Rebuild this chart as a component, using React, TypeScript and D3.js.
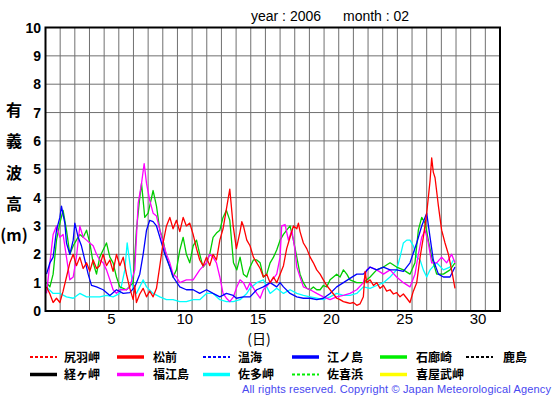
import * as d3 from "d3";
import { useEffect, useRef } from "react";

const W = 555;
const H = 395;

const yTicks = [0, 1, 2, 3, 4, 5, 6, 7, 8, 9, 10];
const xTickDays = [5, 10, 15, 20, 25, 30];

// [day, wave height m]
const matsumae = [
  [1.07, 0.85], [1.3, 0.6], [1.52, 0.3], [1.75, 0.45], [1.98, 0.3], [2.2, 0.7], [2.43, 1.2], [2.66, 1.7],
  [2.89, 2.0], [3.11, 1.6], [3.34, 1.9], [3.57, 1.5], [3.8, 1.7], [4.02, 1.4], [4.25, 1.8], [4.48, 1.5],
  [4.7, 1.6], [4.93, 2.0], [5.16, 1.6], [5.39, 1.8], [5.61, 1.4], [5.84, 2.0], [6.07, 1.6], [6.3, 1.9],
  [6.52, 1.3], [6.75, 0.8], [6.98, 0.4], [7.09, 0.9], [7.2, 0.3], [7.43, 0.6], [7.66, 0.8], [7.89, 0.5],
  [8.11, 0.7], [8.34, 0.5], [8.57, 0.8], [8.8, 1.6], [9.02, 2.4], [9.25, 3.0], [9.48, 3.3], [9.7, 2.9],
  [9.93, 3.2], [10.16, 2.8], [10.39, 3.3], [10.61, 3.0], [10.84, 3.1], [11.07, 2.7], [11.3, 2.2], [11.52, 1.8],
  [11.75, 1.6], [11.98, 1.9], [12.2, 1.6], [12.43, 2.0], [12.66, 1.8], [12.89, 2.5], [13.11, 2.9], [13.34, 3.6],
  [13.57, 4.3], [13.8, 3.0], [14.02, 2.2], [14.27, 2.8], [14.39, 3.15], [14.5, 3.0], [14.73, 2.5], [14.95, 2.3],
  [15.18, 1.9], [15.41, 1.7], [15.64, 1.5], [15.86, 1.2], [16.09, 1.3], [16.32, 1.0], [16.55, 1.2], [16.77, 1.0],
  [17.0, 1.3], [17.23, 1.6], [17.45, 2.2], [17.68, 2.6], [17.91, 3.0], [18.14, 2.9], [18.25, 3.1], [18.36, 2.8],
  [18.59, 2.4], [18.82, 2.2], [19.05, 1.9], [19.27, 1.7], [19.5, 1.45], [19.73, 1.3], [19.95, 1.1], [20.18, 0.9],
  [20.41, 0.75], [20.64, 0.6], [20.86, 0.45], [21.09, 0.4], [21.32, 0.33], [21.55, 0.3], [21.77, 0.27], [22.0, 0.3],
  [22.23, 0.2], [22.45, 0.25], [22.68, 0.5], [22.8, 1.4], [22.91, 1.0], [23.14, 1.1], [23.37, 0.9], [23.59, 1.0],
  [23.82, 0.8], [24.05, 0.9], [24.27, 0.7], [24.5, 0.75], [24.73, 0.6], [24.95, 0.65], [25.18, 0.5], [25.41, 0.6],
  [25.64, 0.45], [25.86, 0.3], [26.09, 0.7], [26.32, 1.0], [26.55, 1.9], [26.77, 2.6], [27.0, 3.45], [27.23, 4.6],
  [27.34, 5.4], [27.45, 4.9], [27.57, 4.7], [27.8, 3.7], [28.02, 2.85], [28.25, 2.4], [28.48, 2.0], [28.7, 1.45],
  [28.93, 0.8],
];

const enoshima = [
  [1.07, 1.3], [1.3, 1.7], [1.52, 1.9], [1.75, 2.85], [1.98, 3.3], [2.09, 3.7], [2.2, 3.4], [2.32, 3.1],
  [2.43, 2.4], [2.66, 2.0], [2.89, 2.5], [3.0, 3.1], [3.23, 2.6], [3.45, 2.3], [3.68, 1.8], [3.91, 1.3],
  [4.14, 0.9], [4.48, 0.85], [4.93, 0.75], [5.39, 0.55], [5.84, 0.75], [6.3, 0.62], [6.75, 0.65], [7.09, 0.85],
  [7.43, 1.3], [7.66, 2.0], [7.89, 2.85], [8.11, 3.2], [8.34, 3.15], [8.57, 3.0], [8.8, 2.6], [9.14, 2.0],
  [9.48, 1.55], [9.7, 1.2], [10.16, 0.85], [10.61, 0.75], [11.07, 0.75], [11.52, 0.62], [11.98, 0.75], [12.43, 0.62],
  [12.89, 0.5], [13.34, 0.62], [13.8, 0.55], [14.02, 0.45], [14.5, 0.5], [14.95, 0.5], [15.41, 0.75], [15.86, 0.85],
  [16.32, 1.0], [16.77, 0.85], [17.0, 1.0], [17.23, 0.85], [17.68, 0.62], [18.14, 0.5], [18.59, 0.45], [19.05, 0.45],
  [19.5, 0.4], [19.95, 0.45], [20.41, 0.62], [20.86, 0.85], [21.32, 1.0], [21.77, 1.15], [22.23, 1.3], [22.68, 1.3],
  [23.14, 1.55], [23.59, 1.45], [24.05, 1.55], [24.5, 1.45], [24.95, 1.45], [25.41, 1.4], [25.86, 1.7], [26.32, 2.4],
  [26.66, 3.0], [27.0, 3.45], [27.23, 2.6], [27.45, 1.8], [27.8, 1.3], [28.14, 1.2], [28.59, 1.2], [28.93, 1.55],
];

const irozaki = [
  [1.07, 1.0], [1.3, 0.85], [1.52, 1.3], [1.75, 2.5], [1.98, 3.1], [2.2, 3.55], [2.43, 2.85], [2.66, 2.0],
  [2.89, 2.3], [3.11, 2.5], [3.34, 2.7], [3.57, 2.6], [3.8, 2.85], [4.02, 2.4], [4.25, 1.7], [4.48, 1.3],
  [4.7, 1.9], [4.93, 2.15], [5.16, 2.4], [5.39, 1.9], [5.61, 1.7], [5.84, 1.2], [6.07, 0.85], [6.52, 0.75],
  [6.98, 1.0], [7.2, 2.85], [7.43, 4.0], [7.55, 4.5], [7.77, 3.3], [8.0, 3.45], [8.34, 4.25], [8.57, 3.7],
  [8.8, 2.85], [9.02, 2.5], [9.25, 1.9], [9.48, 1.55], [9.7, 1.2], [9.93, 1.45], [10.16, 2.15], [10.39, 2.6],
  [10.61, 2.0], [10.84, 1.7], [11.07, 2.3], [11.3, 2.5], [11.52, 2.0], [11.75, 1.55], [11.98, 1.7], [12.2, 2.0],
  [12.43, 2.6], [12.66, 2.75], [12.89, 2.85], [13.11, 3.3], [13.34, 3.55], [13.57, 3.2], [13.82, 1.7], [14.05, 1.45],
  [14.27, 1.9], [14.5, 1.3], [14.73, 1.2], [14.95, 1.55], [15.18, 1.8], [15.41, 1.8], [15.64, 1.7], [15.86, 1.2],
  [16.09, 1.3], [16.32, 1.7], [16.55, 1.9], [16.77, 2.15], [17.0, 2.5], [17.23, 2.7], [17.45, 2.85], [17.68, 3.0],
  [17.91, 2.5], [18.14, 1.9], [18.36, 1.3], [18.59, 1.0], [18.82, 0.8], [19.05, 0.75], [19.27, 0.85], [19.5, 0.75],
  [19.73, 0.75], [19.95, 0.9], [20.18, 0.85], [20.41, 1.1], [20.64, 1.2], [20.86, 1.3], [21.09, 1.2], [21.32, 1.45],
  [21.55, 1.3], [21.77, 1.1], [22.23, 1.0], [22.68, 1.0], [23.14, 1.2], [23.59, 1.45], [24.05, 1.55], [24.5, 1.7],
  [24.95, 1.55], [25.41, 1.45], [25.86, 1.3], [26.2, 1.7], [26.43, 2.85], [26.66, 3.3], [26.89, 3.1], [27.11, 2.5],
  [27.34, 1.9], [27.68, 1.3], [28.14, 1.3], [28.59, 1.45], [28.93, 1.7],
];

const satamisaki = [
  [1.07, 0.85], [1.52, 0.62], [1.98, 0.62], [2.43, 0.5], [2.89, 0.45], [3.34, 0.62], [3.8, 0.5], [4.25, 0.5],
  [4.7, 0.5], [5.16, 0.55], [5.61, 0.5], [6.07, 0.62], [6.41, 1.45], [6.57, 2.4], [6.75, 1.7], [6.98, 0.75],
  [7.2, 0.62], [7.43, 0.85], [7.66, 1.1], [7.89, 0.85], [8.34, 0.62], [8.8, 0.5], [9.25, 0.4], [9.7, 0.4],
  [10.16, 0.33], [10.61, 0.33], [11.07, 0.4], [11.52, 0.4], [11.98, 0.62], [12.43, 0.62], [12.89, 0.4], [13.34, 0.33],
  [13.8, 0.33], [14.27, 0.4], [14.73, 0.62], [14.95, 0.8], [15.41, 1.0], [15.86, 1.1], [16.09, 0.85], [16.32, 0.62],
  [16.77, 0.8], [17.23, 0.62], [17.68, 0.75], [18.14, 0.62], [18.59, 0.55], [19.05, 0.5], [19.5, 0.45], [19.95, 0.4],
  [20.41, 0.5], [20.86, 0.62], [21.32, 0.55], [21.77, 0.55], [22.23, 0.62], [22.68, 0.85], [23.14, 0.8], [23.59, 0.9],
  [24.05, 1.0], [24.5, 1.2], [24.95, 1.45], [25.18, 1.9], [25.41, 2.4], [25.64, 2.5], [25.86, 2.5], [26.09, 2.3],
  [26.32, 1.9], [26.55, 1.8], [26.77, 1.45], [27.0, 1.2], [27.23, 1.45], [27.68, 1.7], [28.14, 1.45], [28.59, 1.55],
  [28.82, 1.8],
];

const fukuejima = [
  [1.07, 0.62], [1.3, 1.7], [1.52, 2.7], [1.75, 3.0], [1.98, 2.6], [2.2, 2.7], [2.43, 1.9], [2.66, 1.1],
  [2.89, 1.2], [3.11, 1.9], [3.34, 3.0], [3.57, 2.6], [3.8, 2.5], [4.02, 2.4], [4.25, 2.3], [4.48, 2.0],
  [4.7, 1.8], [4.93, 1.7], [5.16, 1.45], [5.39, 1.1], [5.61, 0.75], [5.84, 0.62], [6.07, 0.75], [6.52, 0.75],
  [6.75, 0.85], [7.09, 1.45], [7.32, 3.8], [7.55, 4.5], [7.73, 5.2], [7.89, 4.5], [8.11, 3.9], [8.34, 3.45],
  [8.57, 3.35], [8.8, 2.85], [9.02, 2.4], [9.25, 2.0], [9.48, 1.7], [9.7, 1.3], [9.93, 1.2], [10.16, 1.0],
  [10.61, 1.1], [11.07, 1.1], [11.52, 1.45], [11.98, 1.7], [12.2, 2.0], [12.43, 1.9], [12.66, 1.7], [12.89, 1.2],
  [13.11, 0.62], [13.34, 0.45], [13.57, 0.33], [13.82, 0.5], [14.05, 0.85], [14.27, 1.1], [14.5, 1.0], [14.73, 0.75],
  [14.95, 1.0], [15.41, 0.62], [15.64, 0.45], [15.86, 0.75], [16.32, 1.0], [16.77, 1.3], [17.0, 1.9], [17.11, 3.0],
  [17.34, 3.05], [17.57, 2.5], [17.8, 2.85], [18.02, 2.15], [18.14, 1.55], [18.36, 1.2], [18.59, 0.85], [19.05, 0.75],
  [19.5, 0.62], [19.95, 0.5], [20.41, 0.4], [20.86, 0.5], [21.32, 0.55], [21.77, 0.62], [22.23, 0.75], [22.68, 1.0],
  [22.91, 1.45], [23.14, 1.55], [23.59, 1.45], [24.05, 1.3], [24.5, 1.45], [24.95, 1.2], [25.41, 1.0], [25.86, 0.85],
  [26.2, 1.3], [26.43, 2.0], [26.66, 2.6], [26.89, 2.85], [27.11, 2.4], [27.34, 1.7], [27.68, 1.7], [28.02, 1.9],
  [28.36, 1.7], [28.7, 2.0], [28.93, 1.7],
];

// drawing order roughly as in the picture (red on top)
const series = [
  { color: "#00ffff", data: satamisaki },
  { color: "#00cc00", data: irozaki },
  { color: "#ff00ff", data: fukuejima },
  { color: "#0000ff", data: enoshima },
  { color: "#ff0000", data: matsumae },
];

const legendRow1 = [
  { name: "尻羽岬", color: "#ff0000", dashed: true },
  { name: "松前", color: "#ff0000", dashed: false },
  { name: "温海", color: "#0000ff", dashed: true },
  { name: "江ノ島", color: "#0000ff", dashed: false },
  { name: "石廊崎", color: "#00ee00", dashed: false },
  { name: "鹿島", color: "#000000", dashed: true },
];
const legendRow2 = [
  { name: "経ヶ岬", color: "#000000", dashed: false },
  { name: "福江島", color: "#ff00ff", dashed: false },
  { name: "佐多岬", color: "#00ffff", dashed: false },
  { name: "佐喜浜", color: "#00ee00", dashed: true },
  { name: "喜屋武岬", color: "#ffff00", dashed: false },
];

const legendX = [30, 117, 203, 292, 380, 466];
const legendTextX = [64, 153, 238, 327, 416, 503];

const latin = "'Liberation Sans', Arial, Helvetica, sans-serif";
const cjk = "'Noto Sans CJK JP', 'Noto Sans CJK SC', sans-serif";

export default function App() {
  const ref = useRef<SVGSVGElement>(null);

  useEffect(() => {
    const svg = d3.select(ref.current);
    svg.selectAll("*").remove();

    const x = d3.scaleLinear().domain([1, 32]).range([45.5, 500]);
    const y = d3.scaleLinear().domain([0, 10]).range([311, 27.5]);

    svg
      .append("rect")
      .attr("width", W)
      .attr("height", H)
      .attr("fill", "#fff");

    // grid
    const grid = svg.append("g").attr("stroke", "#707070").attr("stroke-width", 1);
    grid
      .selectAll("line.v")
      .data(d3.range(2, 32))
      .join("line")
      .attr("x1", (d) => x(d))
      .attr("x2", (d) => x(d))
      .attr("y1", y(0))
      .attr("y2", y(10));
    grid
      .selectAll("line.h")
      .data(yTicks.slice(1, -1))
      .join("line")
      .attr("x1", x(1))
      .attr("x2", x(32))
      .attr("y1", (d) => y(d))
      .attr("y2", (d) => y(d));

    svg
      .append("clipPath")
      .attr("id", "plot")
      .append("rect")
      .attr("x", x(1))
      .attr("y", y(10))
      .attr("width", x(32) - x(1))
      .attr("height", y(0) - y(10));

    const line = d3
      .line<number[]>()
      .x((d) => x(d[0]))
      .y((d) => y(d[1]));

    svg
      .append("g")
      .attr("clip-path", "url(#plot)")
      .selectAll("path")
      .data(series)
      .join("path")
      .attr("fill", "none")
      .attr("stroke", (d) => d.color)
      .attr("stroke-width", 1.3)
      .attr("stroke-linejoin", "round")
      .attr("d", (d) => line(d.data));

    // frame
    svg
      .append("rect")
      .attr("x", x(1))
      .attr("y", y(10))
      .attr("width", x(32) - x(1))
      .attr("height", y(0) - y(10))
      .attr("fill", "none")
      .attr("stroke", "#000")
      .attr("stroke-width", 2);

    // y tick labels
    svg
      .append("g")
      .attr("font-family", latin)
      .attr("font-weight", "bold")
      .attr("font-size", 14)
      .attr("text-anchor", "end")
      .selectAll("text")
      .data(yTicks)
      .join("text")
      .attr("x", 41)
      .attr("y", (d) => y(d) + 5)
      .text((d) => d);

    // x tick labels (centred on the day column)
    svg
      .append("g")
      .attr("font-family", latin)
      .attr("font-size", 15)
      .attr("text-anchor", "middle")
      .selectAll("text")
      .data(xTickDays)
      .join("text")
      .attr("x", (d) => x(d + 0.5))
      .attr("y", 323.5)
      .text((d) => d);

    svg
      .append("text")
      .attr("x", 259)
      .attr("y", 343.5)
      .attr("text-anchor", "middle")
      .attr("font-family", cjk)
      .attr("font-size", 14)
      .text("(日)");

    // y title, one char per line
    svg
      .append("g")
      .attr("font-family", cjk)
      .attr("font-weight", "bold")
      .attr("font-size", 16)
      .attr("text-anchor", "middle")
      .selectAll("text")
      .data(["有", "義", "波", "高", "(m)"])
      .join("text")
      .attr("x", 14)
      .attr("y", (d, i) => 116 + i * 31.3)
      .text((d) => d);

    svg
      .append("text")
      .attr("x", 251)
      .attr("y", 21)
      .attr("font-family", latin)
      .attr("font-size", 14)
      .text("year : 2006");
    svg
      .append("text")
      .attr("x", 343)
      .attr("y", 21)
      .attr("font-family", latin)
      .attr("font-size", 14)
      .text("month : 02");

    // legend
    const rows = [legendRow1, legendRow2];
    rows.forEach((row, r) => {
      const cy = 357 + r * 17.5;
      const g = svg.append("g");
      row.forEach((item, i) => {
        g.append("line")
          .attr("x1", legendX[i])
          .attr("x2", legendX[i] + 27)
          .attr("y1", cy)
          .attr("y2", cy)
          .attr("stroke", item.color)
          .attr("stroke-width", item.dashed ? 2 : 3.5)
          .attr("stroke-dasharray", item.dashed ? "3,2" : null);
        g.append("text")
          .attr("x", legendTextX[i])
          .attr("y", cy + 4.5)
          .attr("font-family", cjk)
          .attr("font-weight", "bold")
          .attr("font-size", 12)
          .text(item.name);
      });
    });

    svg
      .append("text")
      .attr("x", 242)
      .attr("y", 392.5)
      .attr("font-family", latin)
      .attr("font-size", 11)
      .attr("fill", "#4848f0")
      .attr("textLength", 309)
      .attr("lengthAdjust", "spacing")
      .text("All rights reserved. Copyright © Japan Meteorological Agency");
  }, []);

  return (
    <svg
      ref={ref}
      width={W}
      height={H}
      style={{ position: "absolute", left: 0, top: 0, display: "block" }}
    />
  );
}
